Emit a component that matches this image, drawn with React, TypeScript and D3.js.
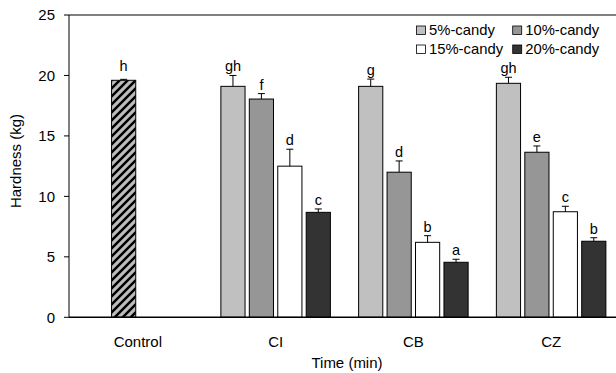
import React from "react";
import * as d3 from "d3";

const groups = ["Control", "CI", "CB", "CZ"];
const series = ["5%-candy", "10%-candy", "15%-candy", "20%-candy"];
const seriesColors = ["#c0c0c0", "#969696", "#ffffff", "#333333"];
const controlValue = 19.6;
const controlError = 0.08;
const controlLetter = "h";
const values = [
  [19.1, 18.05, 12.5, 8.68],
  [19.1, 12.0, 6.2, 4.55],
  [19.35, 13.65, 8.73, 6.29],
];
const errors = [
  [0.9, 0.45, 1.4, 0.28],
  [0.6, 0.93, 0.55, 0.25],
  [0.5, 0.52, 0.45, 0.29],
];
const letters = [
  ["gh", "f", "d", "c"],
  ["g", "d", "b", "a"],
  ["gh", "e", "c", "b"],
];
const yTicks = [0, 5, 10, 15, 20, 25];

const W = 616;
const H = 373;
const left = 69;
const right = 620;
const top = 15;
const bottom = 317.3;
const FONT = "Arial, 'Liberation Sans', sans-serif";

export default function App() {
  const x = d3.scaleBand<string>().domain(groups).range([left, right]);
  const y = d3.scaleLinear().domain([0, 25]).range([bottom, top]);
  const inner = d3
    .scaleBand<string>()
    .domain(series)
    .range([0, x.bandwidth() * 0.795])
    .paddingInner(0.15);
  const groupOffset = (x.bandwidth() - x.bandwidth() * 0.795) / 2;
  const bw = inner.bandwidth();
  const cap = 3.5;

  const barEls: React.ReactNode[] = [];
  {
    const gx = x("Control")! + groupOffset + inner(series[1])!;
    const cx = gx + bw / 2;
    barEls.push(
      <g key="control">
        <rect x={gx} y={y(controlValue)} width={bw} height={bottom - y(controlValue)} fill="url(#hatch)" stroke="#000" strokeWidth={1} />
        <line x1={cx} x2={cx} y1={y(controlValue)} y2={y(controlValue + controlError)} stroke="#000" />
        <line x1={cx - cap} x2={cx + cap} y1={y(controlValue + controlError)} y2={y(controlValue + controlError)} stroke="#000" />
        <text x={cx} y={y(controlValue + controlError) - 8} textAnchor="middle" fontSize={14.5} fontFamily={FONT}>{controlLetter}</text>
      </g>
    );
  }
  groups.slice(1).forEach((g, gi) => {
    series.forEach((s, si) => {
      const v = values[gi][si];
      const e = errors[gi][si];
      const bx = x(g)! + groupOffset + inner(s)!;
      const cx = bx + bw / 2;
      barEls.push(
        <g key={g + s}>
          <rect x={bx} y={y(v)} width={bw} height={bottom - y(v)} fill={seriesColors[si]} stroke="#000" strokeWidth={1} />
          <line x1={cx} x2={cx} y1={y(v)} y2={y(v + e)} stroke="#000" />
          <line x1={cx - cap} x2={cx + cap} y1={y(v + e)} y2={y(v + e)} stroke="#000" />
          <text x={cx} y={y(v + e) - 4} textAnchor="middle" fontSize={14.5} fontFamily={FONT}>{letters[gi][si]}</text>
        </g>
      );
    });
  });

  const legX = [416.5, 512.7];
  const legY = [26, 45];

  return (
    <svg width={W} height={H} style={{ position: "absolute", left: 0, top: 0, background: "#fff" }}>
      <defs>
        <pattern id="hatch" patternUnits="userSpaceOnUse" width={8} height={8}>
          <rect width={8} height={8} fill="#bcbcbc" />
          <path d="M-2,2 L2,-2 M0,8 L8,0 M6,10 L10,6" stroke="#000" strokeWidth={2.5} />
        </pattern>
      </defs>
      <rect x={0} y={0} width={W} height={H} fill="#fff" />
      <line x1={left} x2={right} y1={top} y2={top} stroke="#000" />
      <line x1={left} x2={left} y1={top} y2={bottom} stroke="#000" />
      {barEls}
      <line x1={left} x2={right} y1={bottom} y2={bottom} stroke="#000" strokeWidth={1.5} />
      {yTicks.map((t) => (
        <g key={t}>
          <line x1={left - 5} x2={left} y1={y(t)} y2={y(t)} stroke="#000" />
          <text x={55} y={y(t)} dy="0.36em" textAnchor="end" fontSize={15} fontFamily={FONT}>{t}</text>
        </g>
      ))}
      {groups.map((g) => (
        <text key={g} x={x(g)! + x.bandwidth() / 2} y={347} textAnchor="middle" fontSize={15} fontFamily={FONT}>{g}</text>
      ))}
      <text x={347} y={368} textAnchor="middle" fontSize={15} fontFamily={FONT}>Time (min)</text>
      <text transform="translate(20.5,161) rotate(-90)" textAnchor="middle" fontSize={15} fontFamily={FONT}>Hardness (kg)</text>
      {series.map((s, i) => {
        const lx = legX[i % 2];
        const ly = legY[Math.floor(i / 2)];
        return (
          <g key={s}>
            <rect x={lx} y={ly} width={9} height={8.5} fill={seriesColors[i]} stroke="#000" strokeWidth={0.8} />
            <text x={lx + 12.5} y={ly + 9} fontSize={14.8} fontFamily={FONT}>{s}</text>
          </g>
        );
      })}
    </svg>
  );
}
